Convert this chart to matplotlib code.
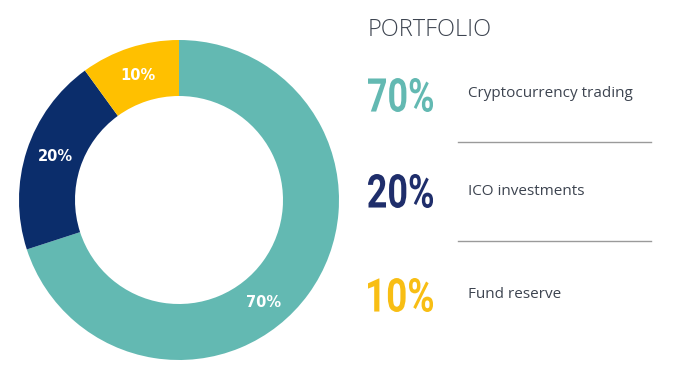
import matplotlib
matplotlib.use("Agg")
import numpy as np
import matplotlib.pyplot as plt
from matplotlib.lines import Line2D
from matplotlib.textpath import TextPath
from matplotlib.patches import PathPatch
from matplotlib.font_manager import FontProperties
from matplotlib.transforms import Affine2D

# data
labels = ["Cryptocurrency trading", "ICO investments", "Fund reserve"]
shares = [70, 20, 10]
colors = ["#63b9b2", "#0b2d6b", "#ffc000"]
big_colors = ["#63b9b2", "#1f2e6b", "#f8be14"]
# the original puts the slice labels a bit off the wedge middle (degrees)
label_shift = [-14, -2, 0]

W, H = 677, 366
fig = plt.figure(figsize=(W / 100, H / 100), dpi=100)


def fx(px):
    return px / W


def fy(py):
    return 1 - py / H


# donut, centre (179, 200), outer radius 160 px
ax = fig.add_axes([fx(19), fy(360), 320 / W, 320 / H])
wedges, texts, autotexts = ax.pie(
    shares, colors=colors, startangle=90, counterclock=False,
    radius=1, wedgeprops=dict(width=0.35, linewidth=0),
    autopct="%d%%", pctdistance=0.825,
    textprops=dict(color="white", fontsize=10.5, fontweight="bold", family="DejaVu Sans"),
)
for w, t, d in zip(wedges, autotexts, label_shift):
    mid = np.deg2rad((w.theta1 + w.theta2) / 2 + d)
    t.set_position((0.825 * np.cos(mid), 0.825 * np.sin(mid)))
    t.set_va("center_baseline")
ax.set_xlim(-1, 1)
ax.set_ylim(-1, 1)
ax.set_aspect("equal")
ax.axis("off")

# right hand legend
fig.text(fx(368), fy(36), "PORTFOLIO", fontsize=17, color="#3d4450",
         family="Open Sans", fontweight="light", va="baseline", ha="left")

big_y = [112, 208, 312]
desc_y = [97, 195, 298]
big_font = FontProperties(family="Roboto", weight="bold")
for lab, val, col, by, dy in zip(labels, shares, big_colors, big_y, desc_y):
    # condensed look: squeeze a bold glyph path horizontally
    tp = TextPath((0, 0), f"{val}%", size=1, prop=big_font)
    bb = tp.get_extents()
    sy = 34 / bb.height
    sx = 65 / bb.width
    tr = Affine2D().translate(-bb.x0, -bb.y0).scale(sx, sy).translate(368, H - by)
    fig.add_artist(PathPatch(tp, transform=tr, facecolor=col, edgecolor="none"))
    fig.text(fx(468), fy(dy), lab, fontsize=11, color="#3d4450",
             family="Open Sans", va="baseline", ha="left")

for ly in [142, 241]:
    fig.add_artist(Line2D([fx(458), fx(651)], [fy(ly), fy(ly)],
                          color="#9a9a9a", linewidth=1))

fig.savefig("out.png", dpi=100)
